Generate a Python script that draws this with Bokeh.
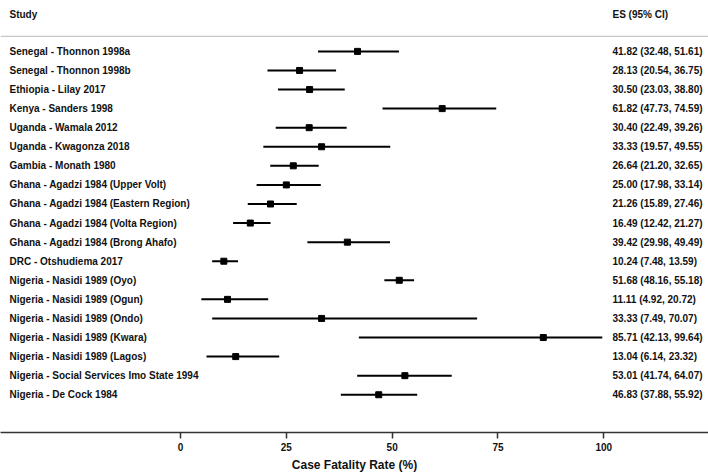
from bokeh.plotting import figure
from bokeh.models import Range1d, LinearAxis, FixedTicker, ColumnDataSource, Span
from bokeh.core.properties import value
from bokeh.embed import file_html
from bokeh.resources import INLINE

studies = [
    "Senegal - Thonnon 1998a",
    "Senegal - Thonnon 1998b",
    "Ethiopia - Lilay 2017",
    "Kenya - Sanders 1998",
    "Uganda - Wamala 2012",
    "Uganda - Kwagonza 2018",
    "Gambia - Monath 1980",
    "Ghana - Agadzi 1984 (Upper Volt)",
    "Ghana - Agadzi 1984 (Eastern Region)",
    "Ghana - Agadzi 1984 (Volta Region)",
    "Ghana - Agadzi 1984 (Brong Ahafo)",
    "DRC - Otshudiema 2017",
    "Nigeria - Nasidi 1989 (Oyo)",
    "Nigeria - Nasidi 1989 (Ogun)",
    "Nigeria - Nasidi 1989 (Ondo)",
    "Nigeria - Nasidi 1989 (Kwara)",
    "Nigeria - Nasidi 1989 (Lagos)",
    "Nigeria - Social Services Imo State 1994",
    "Nigeria - De Cock 1984",
]
es = [41.82, 28.13, 30.50, 61.82, 30.40, 33.33, 26.64, 25.00, 21.26, 16.49,
      39.42, 10.24, 51.68, 11.11, 33.33, 85.71, 13.04, 53.01, 46.83]
ci_low = [32.48, 20.54, 23.03, 47.73, 22.49, 19.57, 21.20, 17.98, 15.89, 12.42,
          29.98, 7.48, 48.16, 4.92, 7.49, 42.13, 6.14, 41.74, 37.88]
ci_high = [51.61, 36.75, 38.80, 74.59, 39.26, 49.55, 32.65, 33.14, 27.46, 21.27,
           49.49, 13.59, 55.18, 20.72, 70.07, 99.64, 23.32, 64.07, 55.92]
x_ticks = [0, 25, 50, 75, 100]
header_left = "Study"
header_right = "ES (95% CI)"
x_title = "Case Fatality Rate (%)"

rows = list(range(len(studies)))
es_text = ["%.2f (%.2f, %.2f)" % (e, l, h) for e, l, h in zip(es, ci_low, ci_high)]

src = ColumnDataSource(dict(y=rows, study=studies, es=es, lo=ci_low, hi=ci_high, txt=es_text))

W, H = 708, 474
BOTTOM = 41
# pixel geometry (canvas coords) -> data ranges
px0, pxu = 180.0, 4.233          # x pixel of 0, pixels per unit
row0, rowh = 51.0, 19.12          # y pixel of first row, row spacing
frame_top, frame_bot = 0.0, H - BOTTOM
def xv(px):
    return (px - px0) / pxu
def yv(py):
    return (py - row0) / rowh

p = figure(width=W, height=H, output_backend="svg", toolbar_location=None,
           x_range=Range1d(xv(0), xv(W)),
           y_range=Range1d(yv(frame_bot), yv(frame_top)),
           x_axis_type=None, y_axis_type=None,
           min_border_left=0, min_border_right=0, min_border_top=0,
           min_border_bottom=BOTTOM)
p.outline_line_color = None
p.grid.visible = False
p.background_fill_color = "white"

ax = LinearAxis(ticker=FixedTicker(ticks=x_ticks))
ax.axis_label = x_title
ax.axis_label_text_font = "Liberation Sans"
ax.axis_label_text_font_style = "bold"
ax.axis_label_text_font_size = "12px"
ax.axis_label_text_color = "#111111"
ax.axis_label_standoff = 4
ax.major_label_text_font = "Liberation Sans"
ax.major_label_text_font_style = "bold"
ax.major_label_text_font_size = "10px"
ax.major_label_text_color = "#111111"
ax.major_label_standoff = 4
ax.major_tick_out = 6
ax.major_tick_in = 0
ax.minor_tick_out = 0
ax.minor_tick_in = 0
ax.axis_line_color = "#333333"
ax.axis_line_width = 1.5
ax.major_tick_line_color = "#333333"
ax.major_tick_line_width = 1.5
p.add_layout(ax, "below")

# header separator
p.add_layout(Span(location=yv(36), dimension="width", line_color="#c8c8c8", line_width=1.2))

# CI lines and point estimates
p.segment(x0="lo", x1="hi", y0="y", y1="y", source=src, line_color="black", line_width=2)
p.scatter(x="es", y="y", source=src, marker="square", size=6, fill_color="black", line_color="black")

# study labels and ES texts
p.text(x=xv(9), y="y", text="study", source=src, text_font=value("Liberation Sans"),
       text_font_style="bold", text_font_size="10px", text_baseline="middle",
       text_align="left", text_color="#111111")
p.text(x=xv(612), y="y", text="txt", source=src, text_font=value("Liberation Sans"),
       text_font_style="bold", text_font_size="10px", text_baseline="middle",
       text_align="left", text_color="#111111")

# headers
p.text(x=[xv(9)], y=[yv(14)], text=[header_left], text_font=value("Liberation Sans"),
       text_font_style="bold", text_font_size="10px", text_baseline="middle",
       text_align="left", text_color="#111111")
p.text(x=[xv(612)], y=[yv(14)], text=[header_right], text_font=value("Liberation Sans"),
       text_font_style="bold", text_font_size="10px", text_baseline="middle",
       text_align="left", text_color="#111111")

open("out.html", "w").write(file_html(p, INLINE))
